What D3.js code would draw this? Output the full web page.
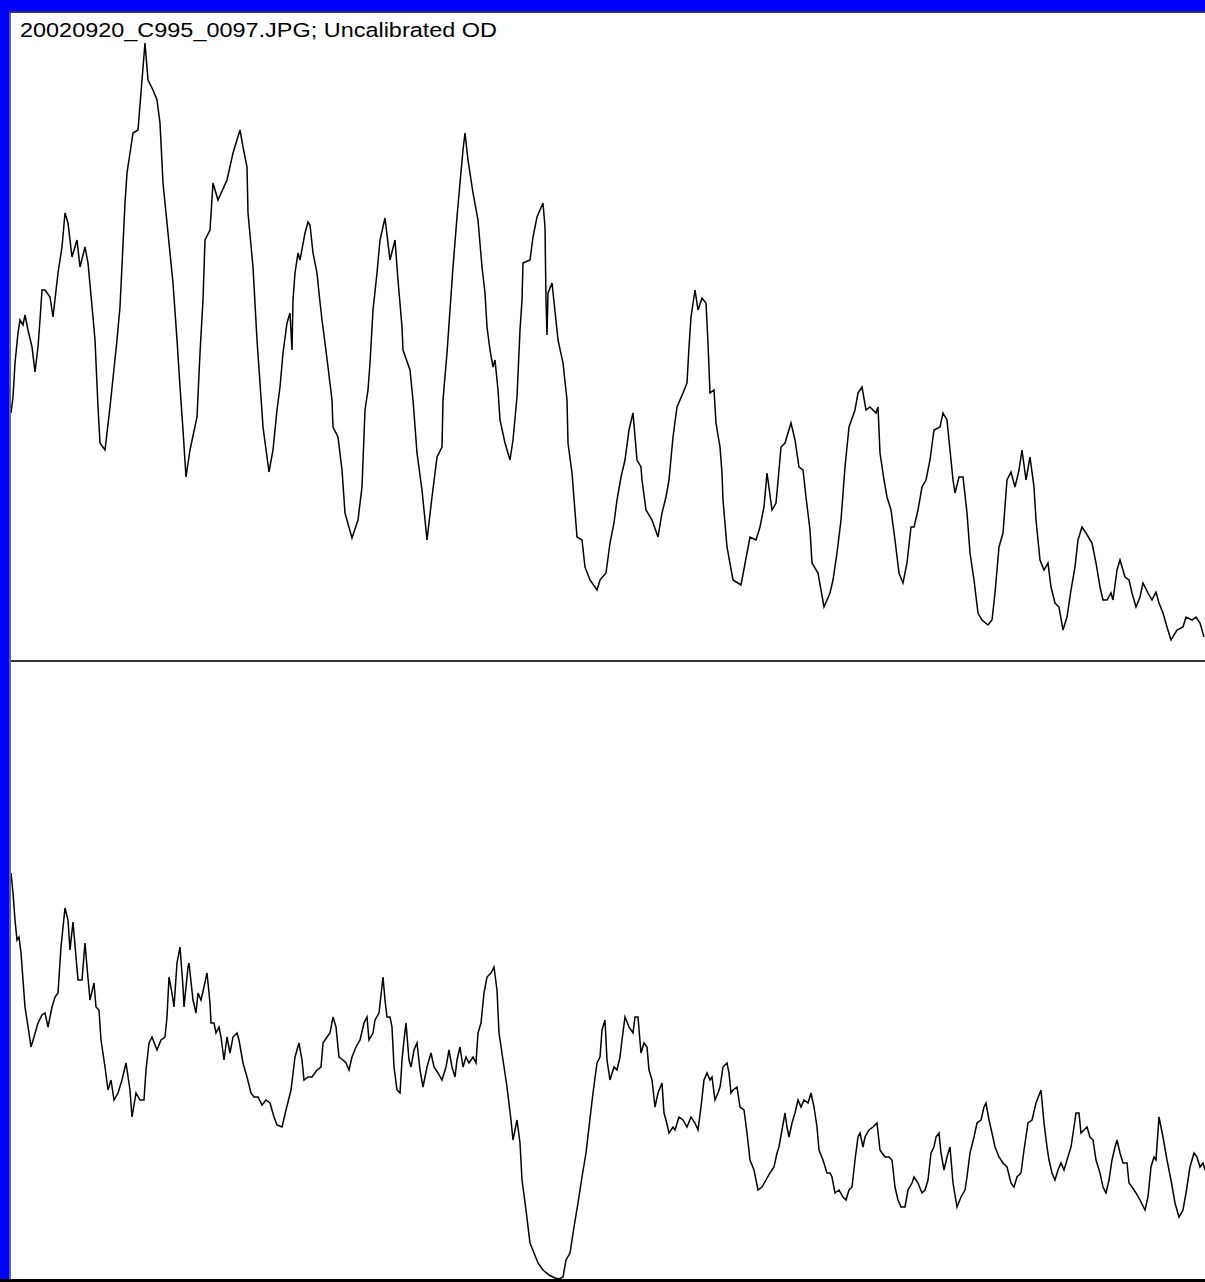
<!DOCTYPE html>
<html>
<head>
<meta charset="utf-8">
<script src="https://cdn.jsdelivr.net/npm/d3@7"></script>
<style>
  html, body { margin: 0; padding: 0; background: #0000ff; }
  svg { display: block; }
</style>
</head>
<body>
<div id="chart"></div>
<script>
// Densitometer trace window: two OD profiles along the scanned lane.
const titleText = "20020920_C995_0097.JPG; Uncalibrated OD";

// [position along lane, uncalibrated OD] — upper profile
const topProfile = [
  [0,248],[2,264],[4,298],[7,328],[9,341],[12,336],[14,346],[17,331],[21,314],[24,289],
  [27,314],[29,341],[31,371],[34,371],[39,364],[42,344],[47,388],[51,414],[54,448],[57,438],
  [61,404],[66,421],[69,394],[74,414],[77,398],[82,344],[84,321],[87,254],[89,218],[94,211],
  [99,254],[106,321],[109,354],[114,458],[116,488],[122,528],[127,531],[131,581],[134,618],[137,581],
  [142,571],[146,561],[149,538],[152,478],[157,428],[162,378],[166,321],[169,274],[172,231],[175,184],
  [179,211],[186,244],[189,308],[192,361],[194,421],[199,431],[202,478],[207,461],[216,481],[222,508],
  [229,531],[232,514],[236,494],[237,448],[242,394],[246,321],[249,278],[252,234],[256,204],[258,189],
  [262,211],[266,251],[269,274],[272,308],[276,338],[279,348],[281,311],[282,361],[284,388],[287,408],
  [289,401],[294,428],[297,439],[299,436],[302,408],[306,388],[308,368],[311,341],[314,318],[317,294],
  [321,261],[322,234],[327,224],[331,191],[334,148],[341,123],[347,141],[351,174],[354,251],[357,271],
  [359,298],[362,351],[366,388],[369,421],[374,443],[379,401],[384,421],[387,381],[391,334],[392,311],
  [399,291],[402,261],[406,208],[411,171],[416,121],[421,164],[426,204],[431,214],[432,261],[436,308],
  [439,351],[442,394],[446,444],[449,478],[452,511],[454,528],[457,501],[462,468],[467,441],[471,394],
  [474,368],[476,334],[479,311],[482,294],[484,301],[487,271],[489,241],[494,218],[499,201],[502,221],
  [506,264],[509,331],[511,361],[512,398],[519,401],[522,424],[526,444],[532,458],[534,434],[535,361],
  [536,326],[537,368],[541,378],[546,331],[547,321],[552,298],[556,261],[557,218],[561,188],[566,124],
  [571,121],[574,94],[579,81],[586,71],[589,81],[595,88],[599,118],[603,138],[606,161],[610,184],
  [614,201],[618,231],[622,248],[626,201],[630,194],[631,181],[635,151],[641,141],[647,124],[651,148],
  [655,164],[658,181],[662,224],[666,254],[672,268],[676,278],[678,314],[680,344],[684,371],[687,351],
  [691,363],[695,358],[697,318],[699,268],[703,271],[705,238],[709,214],[711,188],[712,161],[716,114],
  [722,81],[730,76],[736,108],[739,124],[745,121],[749,134],[753,154],[756,188],[761,151],[765,158],
  [768,191],[770,214],[774,218],[780,238],[784,221],[788,194],[792,191],[795,164],[799,131],[801,98],
  [807,88],[813,54],[819,68],[822,81],[826,108],[830,141],[834,194],[838,234],[844,251],[847,268],
  [851,274],[855,251],[859,254],[865,248],[867,254],[869,208],[873,181],[876,164],[880,151],[884,121],
  [888,88],[892,78],[896,98],[900,134],[903,134],[907,151],[911,174],[915,181],[919,201],[923,231],
  [929,234],[932,248],[936,241],[940,201],[942,181],[944,168],[948,184],[952,184],[956,148],[959,108],
  [963,81],[967,48],[971,41],[977,36],[981,41],[984,68],[988,114],[992,128],[996,181],[1000,189],
  [1004,174],[1008,191],[1011,211],[1015,181],[1019,204],[1023,174],[1025,141],[1029,101],[1033,91],[1037,98],
  [1040,74],[1044,58],[1048,54],[1052,31],[1056,44],[1060,71],[1064,94],[1067,121],[1071,134],[1075,128],
  [1081,118],[1085,98],[1089,74],[1092,61],[1096,61],[1100,68],[1102,61],[1106,91],[1109,101],[1114,84],
  [1118,81],[1121,68],[1125,54],[1129,64],[1132,78],[1137,68],[1141,61],[1145,69],[1148,58],[1152,48],
  [1156,34],[1160,21],[1166,31],[1172,34],[1175,44],[1181,41],[1185,44],[1189,38],[1193,24]
];

// [position along lane, uncalibrated OD] — lower profile
const bottomProfile = [
  [0,406],[2,386],[4,359],[6,339],[8,342],[10,326],[12,299],[14,272],[18,246],[20,232],
  [23,242],[27,256],[31,264],[34,266],[37,252],[41,272],[44,282],[47,286],[50,332],[54,371],
  [57,359],[59,329],[62,357],[65,322],[67,299],[71,299],[74,336],[76,312],[79,279],[83,296],
  [85,272],[88,269],[90,239],[94,212],[97,189],[100,199],[103,179],[107,186],[111,199],[115,216],
  [119,189],[121,162],[125,186],[129,179],[133,179],[135,209],[138,236],[141,242],[146,229],[150,239],
  [154,242],[156,262],[158,302],[161,286],[163,272],[166,316],[169,332],[172,292],[173,272],[177,312],
  [178,316],[182,279],[185,266],[187,286],[190,279],[193,292],[196,306],[199,276],[200,256],[203,256],
  [205,246],[208,252],[210,242],[213,219],[216,242],[219,226],[222,242],[226,246],[228,239],[232,216],
  [236,202],[240,186],[243,182],[247,182],[251,174],[255,179],[259,176],[263,162],[266,154],[271,152],
  [275,169],[280,189],[284,222],[288,236],[291,219],[293,199],[297,202],[301,202],[306,209],[310,212],
  [312,236],[316,242],[319,246],[322,262],[325,252],[328,222],[332,219],[335,216],[338,209],[341,222],
  [345,232],[349,239],[353,256],[356,262],[358,239],[362,246],[364,259],[368,266],[372,302],[374,279],
  [376,262],[379,262],[381,252],[383,212],[386,189],[389,186],[391,219],[393,239],[395,256],[398,219],
  [400,212],[403,229],[406,236],[409,209],[412,192],[416,212],[420,226],[423,212],[427,206],[431,199],
  [435,212],[438,229],[441,212],[444,202],[446,219],[449,232],[452,212],[455,222],[458,216],[462,222],
  [465,216],[467,246],[470,256],[473,286],[476,302],[480,306],[483,312],[486,289],[488,246],[492,219],
  [496,192],[500,159],[502,139],[506,159],[509,136],[511,99],[515,69],[519,36],[523,26],[527,16],
  [532,9],[538,4],[544,1],[548,0],[552,2],[555,19],[559,26],[563,52],[567,76],[571,102],
  [575,126],[578,152],[582,186],[586,216],[589,222],[591,249],[594,259],[596,219],[599,199],[603,212],
  [606,209],[609,222],[611,239],[614,262],[618,252],[622,246],[624,262],[627,262],[630,226],[633,236],
  [636,232],[638,209],[641,199],[644,172],[647,186],[651,196],[653,166],[655,159],[658,146],[662,152],
  [664,149],[668,162],[672,159],[676,152],[680,162],[684,156],[687,149],[690,172],[693,199],[696,206],
  [699,199],[701,202],[704,179],[707,186],[709,192],[712,212],[716,216],[718,206],[720,186],[722,189],
  [726,192],[729,172],[733,169],[736,146],[739,119],[743,109],[747,89],[751,92],[755,99],[759,106],
  [763,112],[766,126],[768,132],[771,149],[774,166],[776,152],[778,142],[781,156],[784,166],[787,179],
  [790,172],[793,179],[797,176],[800,186],[803,172],[806,152],[808,129],[812,119],[816,106],[819,106],
  [821,102],[824,86],[828,89],[832,82],[835,79],[838,89],[841,92],[844,119],[847,142],[849,146],
  [852,132],[854,142],[858,149],[862,152],[866,156],[869,129],[871,126],[874,122],[878,122],[881,119],
  [884,92],[887,79],[890,72],[894,72],[897,89],[901,96],[903,102],[907,96],[911,86],[914,89],
  [917,99],[920,126],[923,132],[925,142],[928,146],[930,126],[933,109],[936,122],[939,132],[942,96],
  [946,72],[950,82],[954,89],[956,102],[959,126],[963,142],[966,156],[970,159],[973,172],[975,176],
  [978,159],[981,146],[984,132],[988,122],[992,116],[996,112],[1000,96],[1003,92],[1006,102],[1010,106],
  [1013,129],[1017,156],[1021,159],[1025,176],[1030,189],[1033,156],[1036,132],[1038,119],[1041,106],[1044,99],
  [1047,109],[1050,116],[1053,109],[1056,119],[1060,132],[1063,152],[1065,166],[1068,166],[1070,146],[1073,149],
  [1076,152],[1079,142],[1082,139],[1085,119],[1089,106],[1092,92],[1095,86],[1098,99],[1101,119],[1104,132],
  [1106,139],[1109,126],[1112,116],[1116,116],[1118,96],[1121,92],[1125,86],[1129,79],[1134,69],[1137,82],
  [1140,112],[1143,122],[1145,119],[1148,162],[1152,142],[1156,119],[1160,99],[1164,76],[1168,62],[1172,69],
  [1175,86],[1179,112],[1183,126],[1186,122],[1189,112],[1192,116],[1194,109]
];

// Axis extents of the two panels
const positionExtent = [0, 1194];
const topODExtent = [0, 648];
const bottomODExtent = [0, 618];

const W = 1205, H = 1282;
const frame = { left: 11, top: 13, right: 1205, bottom: 1279, split: 661 };

const svg = d3.select("#chart").append("svg")
  .attr("width", W).attr("height", H)
  .attr("shape-rendering", "auto");

// window background and plot canvas
svg.append("rect").attr("x", 0).attr("y", 0).attr("width", W).attr("height", H).attr("fill", "#0000ff");
svg.append("rect")
  .attr("x", frame.left).attr("y", frame.top)
  .attr("width", frame.right - frame.left).attr("height", frame.bottom - frame.top)
  .attr("fill", "#ffffff");

// canvas edges
svg.append("line").attr("x1", frame.left - 1).attr("x2", frame.left - 1)
  .attr("y1", frame.top - 1).attr("y2", frame.bottom)
  .attr("stroke", "#808080").attr("stroke-width", 1.5);
svg.append("line").attr("x1", frame.left - 1).attr("x2", frame.right)
  .attr("y1", frame.top - 1).attr("y2", frame.top - 1)
  .attr("stroke", "#404040").attr("stroke-width", 1.5);
svg.append("rect").attr("x", 0).attr("y", frame.bottom).attr("width", W).attr("height", H - frame.bottom)
  .attr("fill", "#000000");

const x = d3.scaleLinear().domain(positionExtent).range([frame.left, frame.right]);
const yTop = d3.scaleLinear().domain(topODExtent).range([frame.split, frame.top]);
const yBottom = d3.scaleLinear().domain(bottomODExtent).range([frame.bottom, frame.split]);

// panel divider
svg.append("line")
  .attr("x1", frame.left).attr("x2", frame.right)
  .attr("y1", frame.split).attr("y2", frame.split)
  .attr("stroke", "#333333").attr("stroke-width", 2);

const clip = svg.append("clipPath").attr("id", "plot-clip")
  .append("rect")
  .attr("x", frame.left).attr("y", frame.top)
  .attr("width", frame.right - frame.left).attr("height", frame.bottom - frame.top);

const traces = svg.append("g").attr("clip-path", "url(#plot-clip)");

traces.append("path")
  .datum(topProfile)
  .attr("fill", "none")
  .attr("stroke", "#000000")
  .attr("stroke-width", 1.5)
  .attr("stroke-linejoin", "miter")
  .attr("d", d3.line().x(d => x(d[0])).y(d => yTop(d[1])));

traces.append("path")
  .datum(bottomProfile)
  .attr("fill", "none")
  .attr("stroke", "#000000")
  .attr("stroke-width", 1.5)
  .attr("stroke-linejoin", "miter")
  .attr("d", d3.line().x(d => x(d[0])).y(d => yBottom(d[1])));

// window caption
svg.append("text")
  .attr("x", 20).attr("y", 36.5)
  .attr("font-family", "Liberation Sans, Arial, sans-serif")
  .attr("font-size", 20.5)
  .attr("fill", "#000000")
  .attr("textLength", 477)
  .attr("lengthAdjust", "spacingAndGlyphs")
  .text(titleText);
</script>
</body>
</html>
